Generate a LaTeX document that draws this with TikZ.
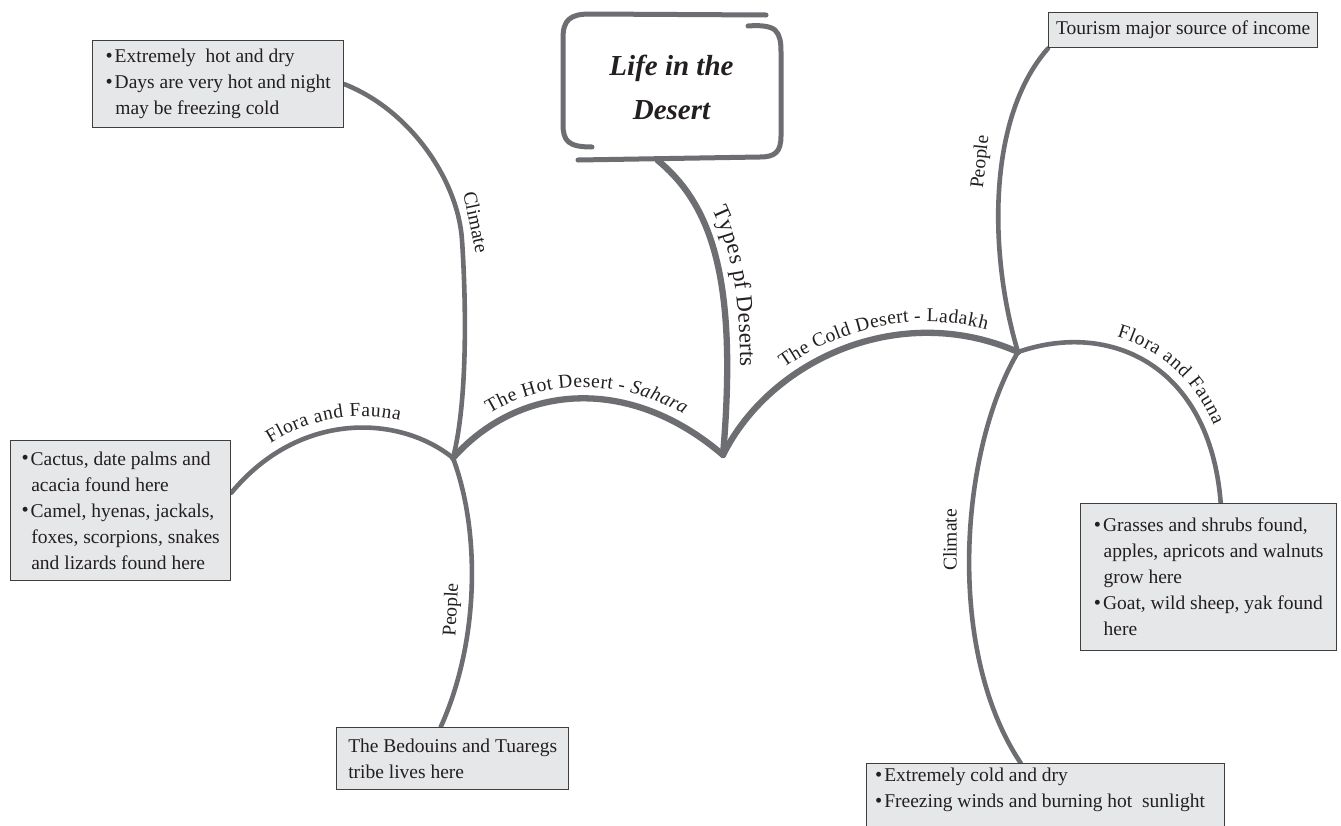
\documentclass[tikz,border=0pt]{standalone}
\usepackage{graphicx}
\usepackage{fontspec}
\setmainfont{Liberation Serif}
\usetikzlibrary{decorations.text}
\definecolor{branch}{HTML}{6D6E71}
\definecolor{boxfill}{HTML}{E6E7E9}
\definecolor{boxline}{HTML}{3F3F3F}
\definecolor{ink}{HTML}{231F20}
\newcommand{\mybul}{\raisebox{0.02em}{\scalebox{1.05}{\textbullet}}\hspace{0.1em}}
\newcommand{\myind}{\hspace*{0.5em}}
\pgfdeclarelayer{bg}
\pgfsetlayers{bg,main}
\begin{document}
\begin{tikzpicture}[x=1pt,y=-1pt,
  infobox/.style={draw=boxline, line width=1.4pt, fill=boxfill, anchor=north west, align=left, inner sep=0pt, font=\fontsize{19.5}{26}\selectfont, text=ink},
  boxtext/.style={align=left, inner sep=0pt, font=\fontsize{19.5}{26}\selectfont, text=ink},
  mainline/.style={draw=branch, line width=6.3pt, line cap=round},
  branchline/.style={draw=branch, line width=4.6pt, line cap=round},
  framestroke/.style={draw=branch, line width=5pt, line cap=round, line join=round},
  vlabel/.style={font=\fontsize{19.5}{22}\selectfont, text=ink, inner sep=0pt},
  curvetext/.style 2 args={decorate, decoration={text along path, text={|\fontsize{19.5}{22}\selectfont|#1}, text align={left, left indent=#2}, raise=11pt, text color=ink}},
]
\useasboundingbox (0,0) rectangle (1341,825);

% ---------- title ----------
\node[minimum width=223pt, minimum height=146pt, inner sep=0pt, align=center,
      font=\fontsize{29}{44}\selectfont\bfseries\itshape, text=ink] (t) at (671.5,87) {Life in the\\Desert};
\draw[framestroke] (592,147) .. controls (568,147) and (563,141) .. (563,124) -- (563,38)
   .. controls (563,20) and (570,14) .. (590,14) -- (766,15);
\draw[framestroke] (748,26) .. controls (760,25) and (770,26) .. (775,30)
   .. controls (780,35) and (781,42) .. (781,52) -- (781,136)
   .. controls (781,152) and (775,157) .. (760,157) -- (578,160);

% ---------- boxes ----------
\node[infobox, minimum width=251pt, minimum height=87pt] (c1) at (92,40)
  {\mybul Extremely\ \ hot and dry\\
   \mybul Days are very hot and night\\
   \myind may be freezing cold};
\node[infobox, minimum width=220pt, minimum height=140pt] (f1) at (10,440)
  {\mybul Cactus, date palms and\\
   \myind acacia found here\\
   \mybul Camel, hyenas, jackals,\\
   \myind foxes, scorpions, snakes\\
   \myind and lizards found here};
\node[infobox, minimum width=232pt, minimum height=62pt] (p1) at (336,727)
  {The Bedouins and Tuaregs\\
   tribe lives here};
\node[infobox, minimum width=269pt, minimum height=35pt] (p2) at (1048,12)
  {Tourism major source of income};
\node[infobox, minimum width=256pt, minimum height=147pt] (f2) at (1080,503)
  {\mybul Grasses and shrubs found,\\
   \myind apples, apricots and walnuts\\
   \myind grow here\\
   \mybul Goat, wild sheep, yak found\\
   \myind here};
\node[infobox, minimum width=358pt, minimum height=90pt] (c2) at (866,763) {};
\node[boxtext, anchor=north west] (c2t) at (875,768)
  {\mybul Extremely cold and dry\\
   \mybul Freezing winds and burning hot\ \ sunlight};

% ---------- connectors ----------
\coordinate (V) at (723,455);
\coordinate (L) at (453,458);
\coordinate (R) at (1018,352);
\begin{pgfonlayer}{bg}
\fill[white] (0,0) rectangle (1341,825);
\draw[mainline] ([xshift=-14pt]t.south) .. controls (712,205) and (738,280) .. (V);
\draw[mainline] (L) .. controls (520,383) and (630,375) .. (V);
\draw[mainline] (V) .. controls (770,360) and (900,300) .. (R);
\draw[branchline] (L) .. controls (468,400) and (466,300) .. (462,240)
   .. controls (458,180) and (410,110) .. (c1.east);
\draw[branchline] (L) .. controls (400,415) and (300,410) .. ([yshift=18pt]f1.east);
\draw[branchline] (L) .. controls (480,530) and (480,640) .. ([xshift=-12pt]p1.north);
\draw[branchline] (R) .. controls (990,260) and (985,120) .. (p2.south west);
\draw[branchline] (R) .. controls (1110,320) and (1210,365) .. ([xshift=12pt]f2.north);
\draw[branchline] (R) .. controls (960,450) and (945,650) .. ([xshift=-25pt]c2.north);
\end{pgfonlayer}

% ---------- labels ----------
\path[curvetext={The Hot Desert - |+\itshape|Sahara}{55pt}] (L) .. controls (520,383) and (630,375) .. (V);
\path[curvetext={The Cold Desert - Ladakh}{104pt}] (V) .. controls (770,360) and (900,300) .. (R);
\path[decorate, decoration={text along path, text={|\fontsize{23}{26}\selectfont|Types pf Deserts},
   text align={left, left indent=70pt}, raise=13pt, text color=ink}]
   ([xshift=-14pt]t.south) .. controls (712,205) and (738,280) .. (V);
\path[curvetext={Flora and Fauna}{60pt}] ([yshift=18pt]f1.east) .. controls (300,410) and (400,415) .. (L);
\path[curvetext={Flora and Fauna}{97pt}] (R) .. controls (1110,320) and (1210,365) .. ([xshift=12pt]f2.north);
\node[vlabel, rotate=-78] (lc) at (476,222) {Climate};
\node[vlabel, rotate=87] (lp) at (452,610) {People};
\node[vlabel, rotate=84] (rp) at (981,162) {People};
\node[vlabel, rotate=90] (rc) at (950,540) {Climate};
\end{tikzpicture}
\end{document}
